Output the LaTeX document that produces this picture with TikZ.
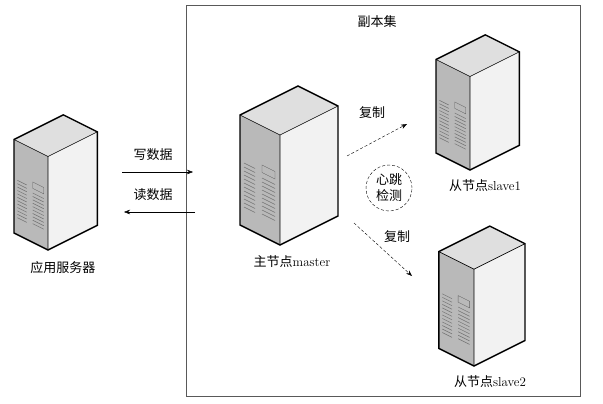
\documentclass[tikz,border=0pt]{standalone}
\usepackage{fontspec}
\newfontfamily\cjk{Noto Sans CJK SC}
\usetikzlibrary{arrows.meta}
\usetikzlibrary{positioning}

\tikzset{
  lbl/.style={inner sep=1pt, font=\fontsize{13}{15}\selectfont},
  flow/.style={-{Stealth[length=6pt]}, densely dashed, thin},
  tower/.pic={
    % left face, right face, top
    \fill[gray!55] (0,0) -- (-40,-20) -- (-40,-130) -- (0,-110) -- cycle;
    \fill[gray!10] (0,0) -- (58,-29) -- (58,-139) -- (0,-110) -- cycle;
    \fill[gray!25] (0,-110) -- (-40,-130) -- (18,-159) -- (58,-139) -- cycle;
    \foreach \k in {0,4,...,44}
      \draw[gray!90!black, line width=0.5pt] (-36,-38-\k) -- (-25,-32.5-\k);
    \foreach \k in {0,4,...,36}
      \draw[gray!90!black, line width=0.5pt] (-18,-31-\k) -- (-5,-24.5-\k);
    \draw[gray!80!black] (-18,-80) -- (-5,-73.5) -- (-5,-66) -- (-18,-72.5) -- cycle;
    \draw[black, line width=1.4pt] (0,0) -- (-40,-20) -- (-40,-130) -- (18,-159)
      -- (58,-139) -- (58,-29) -- cycle;
    \draw[black, line width=0.6pt] (0,0) -- (0,-110) -- (-40,-130) (0,-110) -- (58,-139);
  }
}

\begin{document}
\begin{tikzpicture}[x=1pt,y=-1pt]
  \useasboundingbox (0,0) rectangle (603,404);
  \draw[gray!70!black] (186,5) rectangle (580,396);
  \node[lbl] (set) at (377,22) {\cjk 副本集};

  % servers
  \pic[scale=0.85] at (48,250) {tower};
  \pic at (280,245) {tower};
  \pic[scale=0.85] at (470,170) {tower};
  \pic[scale=0.88] at (474,366) {tower};

  \node[lbl] (app) at (63,268) {\cjk 应用服务器};
  \node[lbl] (master) at (292,262) {{\cjk 主节点}master};
  \node[lbl] (slaveA) at (485,186) {{\cjk 从节点}slave1};
  \node[lbl] (slaveB) at (490,382) {{\cjk 从节点}slave2};

  % write / read
  \coordinate (wA) at (122,172);
  \coordinate (wB) at (193,172);
  \coordinate (rA) at (195,212);
  \coordinate (rB) at (124,212);
  \draw[-{Stealth[length=6pt]}] (wA) -- (wB);
  \draw[-{Stealth[length=6pt]}] (rA) -- (rB);
  \node[lbl] (write) at (153,155) {\cjk 写数据};
  \node[lbl] (read) at (153,195) {\cjk 读数据};

  % replication
  \coordinate (cA) at (347,156);
  \coordinate (cB) at (407,124);
  \coordinate (dA) at (354,223);
  \coordinate (dB) at (412,276);
  \draw[flow] (cA) -- (cB);
  \draw[flow] (dA) -- (dB);
  \node[lbl] (copyA) at (372,113) {\cjk 复制};
  \node[lbl] (copyB) at (397,237) {\cjk 复制};

  \node[draw, densely dashed, circle, minimum size=46pt, inner sep=0pt,
        align=center, font=\fontsize{13}{16}\selectfont\cjk] (beat) at (389,188) {心跳\\检测};
\end{tikzpicture}
\end{document}
